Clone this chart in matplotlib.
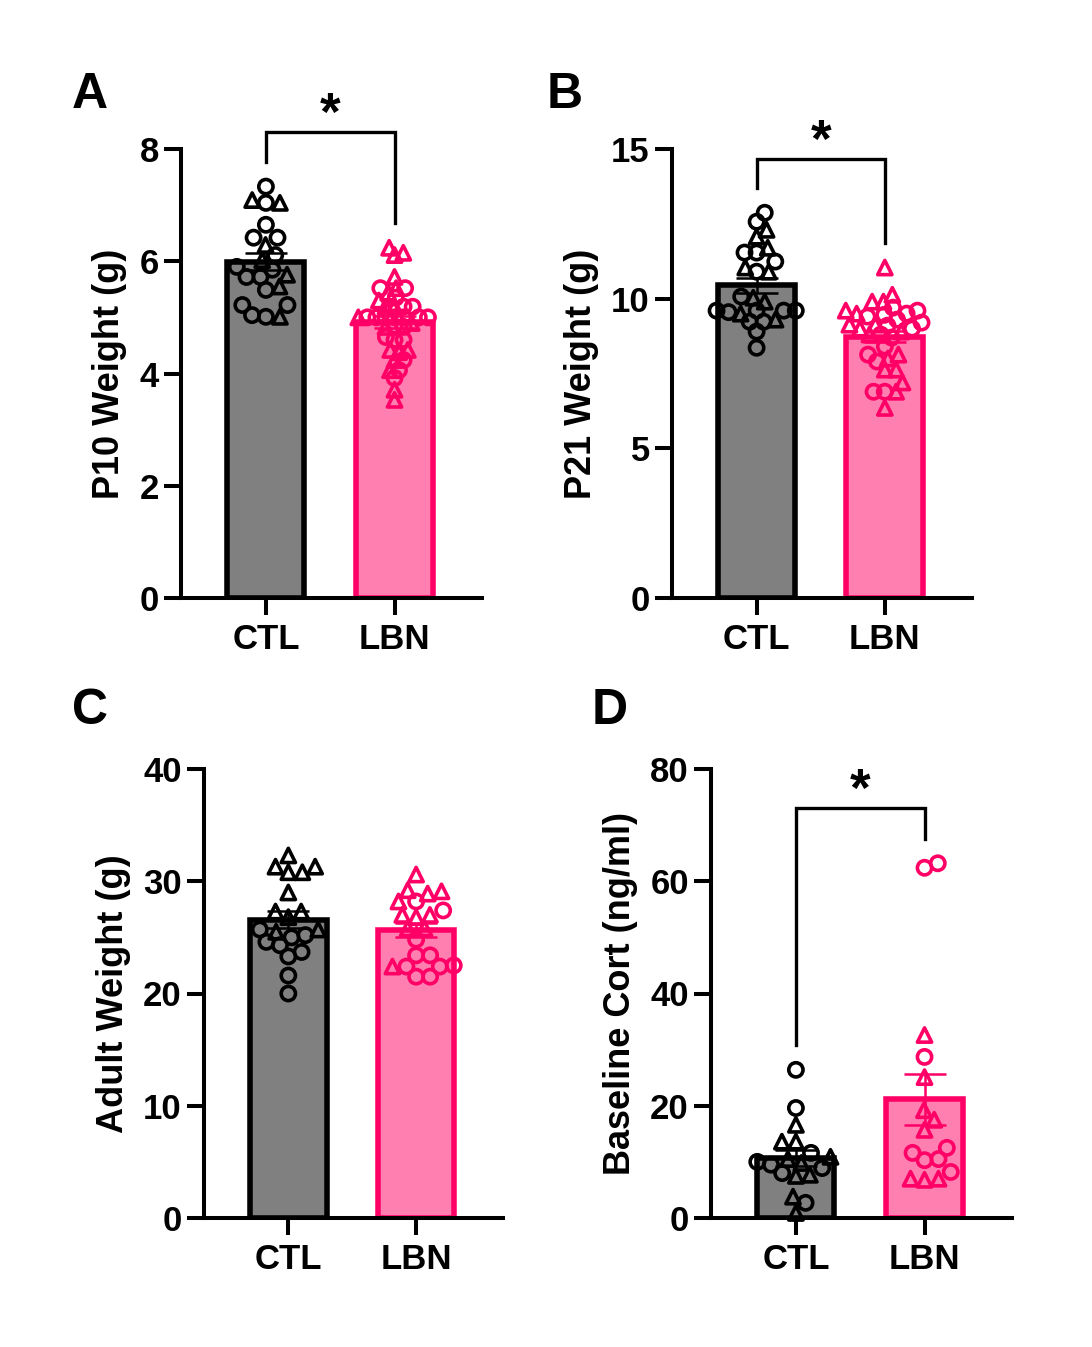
import matplotlib.pyplot as plt
import numpy as np

plt.rcParams['font.family'] = ['Liberation Sans', 'DejaVu Sans']
plt.rcParams['font.weight'] = 'bold'

W, H = 1092, 1347

groups = ["CTL", "LBN"]

# A: P10 weight (g)  -- circles / triangles per group
p10_ctl_circ = [7.33, 7.04, 6.65, 6.42, 6.42, 6.11, 5.85, 5.90, 5.72, 5.72, 5.49, 5.22, 5.22, 5.04, 5.01]
p10_ctl_tri = [7.09, 7.04, 6.29, 6.02, 5.76, 5.55, 5.01]
p10_lbn_circ = [5.52, 5.52, 5.35, 5.19, 5.19, 5.0, 5.0, 5.0, 5.0, 5.0, 5.0, 5.0,
                4.83, 4.83, 4.6, 4.6, 4.65, 4.24, 4.06, 3.92]
p10_lbn_tri = [6.24, 6.15, 6.11, 5.72, 5.52, 5.44, 5.19, 5.19, 5.0, 4.83, 4.42, 4.42,
               4.38, 4.24, 4.06, 3.71, 3.53, 4.9, 5.3]

# B: P21 weight (g)
p21_ctl_circ = [12.87, 12.57, 11.54, 11.54, 11.24, 10.9, 10.07, 9.6, 9.55, 9.6, 9.6, 9.6,
                9.23, 9.23, 8.9, 8.36]
p21_ctl_tri = [12.3, 12.07, 11.7, 11.04, 10.9, 9.9, 10.03, 9.5, 9.3]
p21_lbn_circ = [9.46, 9.7, 9.6, 9.5, 9.4, 9.3, 9.2, 9.1, 9.0, 8.8, 8.7, 8.13, 8.4,
                6.89, 6.89, 7.9]
p21_lbn_tri = [11.04, 10.13, 9.9, 9.9, 9.6, 9.5, 9.13, 9.13, 9.0, 8.8, 8.13, 7.63,
               7.63, 7.2, 6.89, 6.35, 8.0, 8.9]

# C: adult weight (g)
adult_ctl_circ = [25.2, 25.7, 25.0, 23.7, 24.3, 24.6, 23.3, 21.6, 20.0]
adult_ctl_tri = [32.3, 30.8, 31.3, 30.8, 31.3, 29.0, 26.8, 27.3, 27.3, 25.7, 25.5]
adult_lbn_circ = [28.2, 27.4, 24.8, 23.4, 23.4, 22.5, 22.4, 22.4, 21.5, 21.5]
adult_lbn_tri = [30.6, 28.9, 29.2, 29.1, 28.2, 26.8, 27.0, 27.0, 25.8, 25.8, 22.4]

# D: baseline cort (ng/ml)
cort_ctl_circ = [26.4, 19.6, 11.6, 8.9, 10.0, 8.0, 2.7, 9.5]
cort_ctl_tri = [16.6, 13.6, 13.6, 10.9, 10.5, 7.7, 7.5, 3.8, 0.9, 9.8]
cort_lbn_circ = [62.4, 63.2, 28.7, 12.5, 10.3, 10.5, 11.6, 8.2]
cort_lbn_tri = [32.6, 25.1, 19.2, 17.5, 15.7, 6.8, 7.0, 7.0]

edge_cols = ["black", "#FF0066"]
fill_cols = ["#808080", "#FF80B0"]


def swarm(vals, ppx, ppy, diam=14.0, limit=41.0):
    # simple beeswarm: x offsets (data units) so markers don't overlap too much
    ys = np.asarray(vals) * ppy
    order = np.argsort(vals)
    d = diam
    while True:
        placed = []
        xs = np.zeros(len(vals))
        for i in order:
            cands = [0.0]
            for xj, yj in placed:
                dy = ys[i] - yj
                if abs(dy) < d:
                    dx = np.sqrt(d * d - dy * dy)
                    cands += [xj + dx, xj - dx]
            cands.sort(key=abs)
            best = cands[0]
            for c in cands:
                if all((c - xj) ** 2 + (ys[i] - yj) ** 2 >= d * d - 1e-6 for xj, yj in placed):
                    best = c
                    break
            xs[i] = best
            placed.append((best, ys[i]))
        if np.abs(xs).max() <= limit or d < 4:
            return xs / ppx
        d *= 0.93


panels = [
    dict(letter="A", box=(181, 149, 482, 598), ylabel="P10 Weight (g)", ymax=8,
         yticks=[0, 2, 4, 6, 8], data=[(p10_ctl_circ, p10_ctl_tri), (p10_lbn_circ, p10_lbn_tri)],
         bracket=8.3, lpos=(90, 108)),
    dict(letter="B", box=(672, 149, 972, 598), ylabel="P21 Weight (g)", ymax=15,
         yticks=[0, 5, 10, 15], data=[(p21_ctl_circ, p21_ctl_tri), (p21_lbn_circ, p21_lbn_tri)],
         bracket=14.65, lpos=(565, 108)),
    dict(letter="C", box=(204, 769, 503, 1218), ylabel="Adult Weight (g)", ymax=40,
         yticks=[0, 10, 20, 30, 40], data=[(adult_ctl_circ, adult_ctl_tri), (adult_lbn_circ, adult_lbn_tri)],
         bracket=None, lpos=(90, 724)),
    dict(letter="D", box=(711, 769, 1012, 1218), ylabel="Baseline Cort (ng/ml)", ymax=80,
         yticks=[0, 20, 40, 60, 80], data=[(cort_ctl_circ, cort_ctl_tri), (cort_lbn_circ, cort_lbn_tri)],
         bracket=73.0, lpos=(610, 724)),
]

fig = plt.figure(figsize=(W / 100, H / 100), dpi=100)
xlim = (-0.66, 1.68)

for p in panels:
    x0, y0, x1, y1 = p["box"]
    ax = fig.add_axes([x0 / W, 1 - y1 / H, (x1 - x0) / W, (y1 - y0) / H])
    ax.set_xlim(*xlim)
    ax.set_ylim(0, p["ymax"])
    ppx = (x1 - x0) / (xlim[1] - xlim[0])
    ppy = (y1 - y0) / p["ymax"]

    tops = []
    for g, (circ, tri) in enumerate(p["data"]):
        vals = np.array(circ + tri)
        mean = vals.mean()
        sem = vals.std(ddof=1) / np.sqrt(len(vals))
        ax.bar(g, mean, width=0.6, color=fill_cols[g], edgecolor=edge_cols[g],
               linewidth=4.0, zorder=1)
        offs = swarm(vals, ppx, ppy)
        n = len(circ)
        ax.scatter(g + offs[:n], vals[:n], s=105, marker="o", facecolors="none",
                   edgecolors=edge_cols[g], linewidths=2.6, zorder=3, clip_on=False)
        ax.scatter(g + offs[n:], vals[n:], s=105, marker="^", facecolors="none",
                   edgecolors=edge_cols[g], linewidths=2.6, zorder=3, clip_on=False)
        ax.errorbar(g, mean, yerr=sem, fmt="none", ecolor=edge_cols[g], elinewidth=1.8,
                    capsize=15, capthick=1.8, zorder=4)
        tops.append(vals.max())

    if p["bracket"] is not None:
        pad = 0.055 * p["ymax"]
        by = p["bracket"]
        ax.plot([0, 0, 1, 1], [tops[0] + pad, by, by, tops[1] + pad], color="black",
                lw=2.4, clip_on=False, solid_joinstyle="miter")
        ax.annotate("*", xy=(0.5, by), xytext=(0, -6), textcoords="offset points",
                    ha="center", va="bottom", fontsize=38, fontweight="bold",
                    annotation_clip=False)

    ax.set_xticks([0, 1])
    ax.set_xticklabels(groups)
    ax.set_yticks(p["yticks"])
    ax.set_ylabel(p["ylabel"], fontsize=26, fontweight="bold", labelpad=9)
    ax.tick_params(axis="both", labelsize=25, width=2.9, length=12, pad=4)
    ax.tick_params(axis="x", pad=6)
    for s in ["top", "right"]:
        ax.spines[s].set_visible(False)
    for s in ["left", "bottom"]:
        ax.spines[s].set_linewidth(2.9)

    fig.text(p["lpos"][0] / W, 1 - p["lpos"][1] / H, p["letter"], ha="center", va="baseline",
             fontsize=36, fontweight="bold")

fig.savefig("out.png", dpi=100)
